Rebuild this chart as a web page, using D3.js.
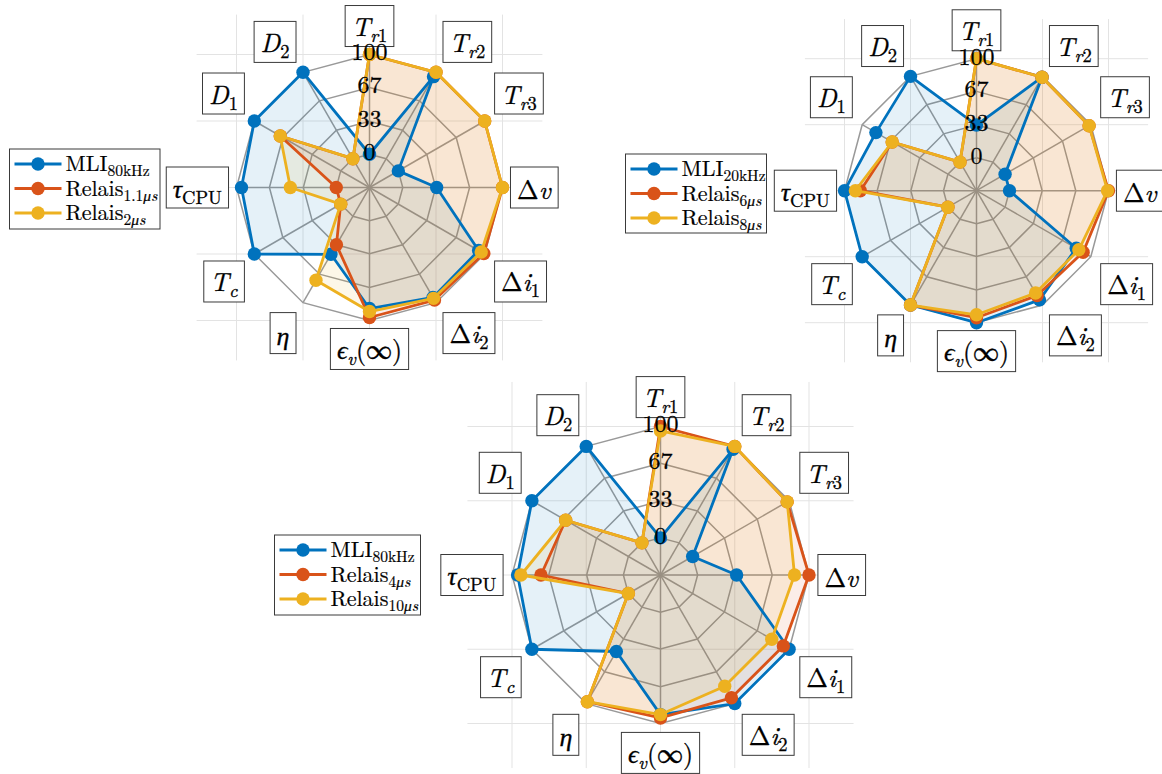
<!DOCTYPE html>
<html><head><meta charset="utf-8">
<script src="https://cdn.jsdelivr.net/npm/d3@7"></script>
<style>html,body{margin:0;padding:0;background:#fff;} svg{display:block;}</style>
</head><body>
<svg id="chart" width="1162" height="774"></svg>
<script>
// ---------------- DATA ----------------
const categories = ["T_{r1}","T_{r2}","T_{r3}","\\Delta v","\\Delta i_1","\\Delta i_2","\\epsilon_v(\\infty)","\\eta","T_c","\\tau_{\\mathrm{CPU}}","D_1","D_2"];
const tickLabels = ["0","33","67","100"];
const tickValues = [0, 33, 67, 100];

const chart1Names = ["\\mathrm{MLI}_{\\mathrm{80kHz}}","\\mathrm{Relais}_{1.1\\mu s}","\\mathrm{Relais}_{2\\mu s}"];
const chart1MLI    = [0, 95, 0, 34, 93, 94, 88, 44, 100, 95, 100, 100];
const chart1RelaisA = [100, 100, 100, 100, 99, 97, 97, 33, 0, 0, 70, 0];
const chart1RelaisB = [100, 100, 100, 100, 96, 95, 91, 74, 0, 46, 70, 0];

const chart2Names = ["\\mathrm{MLI}_{\\mathrm{20kHz}}","\\mathrm{Relais}_{6\\mu s}","\\mathrm{Relais}_{8\\mu s}"];
const chart2MLI    = [33, 99, 0, 0, 83, 94, 100, 100, 100, 100, 84, 100];
const chart2RelaisA = [100, 99, 98, 100, 91, 89, 95, 100, 0, 84, 65, 0];
const chart2RelaisB = [100, 99, 98, 99, 86, 86, 92, 100, 0, 89, 65, 0];

const chart3Names = ["\\mathrm{MLI}_{\\mathrm{80kHz}}","\\mathrm{Relais}_{4\\mu s}","\\mathrm{Relais}_{10\\mu s}"];
const chart3MLI    = [0, 97, 0, 35, 100, 100, 92, 46, 100, 95, 100, 100];
const chart3RelaisA = [100, 100, 98, 100, 94, 94, 95, 98, 0, 74, 65, 0];
const chart3RelaisB = [96, 100, 98, 87, 82, 82, 92, 98, 0, 92, 65, 0];

const seriesColors = ["#0072BD", "#D95319", "#EDB120"];

// ---------------- LAYOUT ----------------
const charts = [
  {cx: 369.5, cy: 187.5, R: 133, names: chart1Names, data: [chart1MLI, chart1RelaisA, chart1RelaisB],
   legend: {x: 9.5, y: 149, w: 150.5, h: 80}},
  {cx: 976.5, cy: 190.7, R: 132, names: chart2Names, data: [chart2MLI, chart2RelaisA, chart2RelaisB],
   legend: {x: 625.5, y: 154, w: 141, h: 79}},
  {cx: 660.5, cy: 575, R: 148.5, names: chart3Names, data: [chart3MLI, chart3RelaisA, chart3RelaisB],
   legend: {x: 274.5, y: 535, w: 146, h: 80}}
];

const FONT = '"Latin Modern Roman", "Liberation Serif", "DejaVu Serif"';
const svg = d3.select("#chart");

// ---- tiny TeX-ish parser ----
function matchBrace(str, k){ let d=0; for(let j=k;j<str.length;j++){ if(str[j]==='{')d++; else if(str[j]==='}'){d--; if(d===0) return j;} } return str.length-1; }
function parseTex(s){
  const segs=[];
  const cmds={Delta:['Δ',false],epsilon:['ϵ',true],infty:['∞',false],eta:['η',true],tau:['τ',true],mu:['μ',true]};
  function push(t,it,sub){ const last=segs[segs.length-1]; if(last&&last.it===it&&last.sub===sub) last.t+=t; else segs.push({t,it,sub}); }
  function parseGroup(str, sub, roman){
    let j=0;
    while(j<str.length){
      const c=str[j];
      if(c==='\\'){
        let k=j+1; while(k<str.length && /[a-zA-Z]/.test(str[k])) k++;
        const name=str.slice(j+1,k);
        if(name==='mathrm'){ const end=matchBrace(str,k); parseGroup(str.slice(k+1,end), sub, true); j=end+1; }
        else { const m=cmds[name]; push(m[0], roman?false:m[1], sub); j=k; if(str[j]===' ') j++; }
      } else if(c==='_'){
        const k=j+1; let g;
        if(str[k]==='{'){ const end=matchBrace(str,k); g=str.slice(k+1,end); j=end+1; }
        else { g=str[k]; j=k+1; }
        parseGroup(g, true, roman);
      } else if(c===' '){ j++; }
      else { push(c, !roman && /[a-zA-Z]/.test(c), sub); j++; }
    }
  }
  parseGroup(s,false,false);
  return segs;
}
function texText(g, str, size, subSize, subShift){
  const text=g.append('text').style('font-family',FONT).style('font-size',size+'px')
    .attr('fill','#000').attr('stroke','#000').attr('stroke-width',0.3);
  let inSub=false;
  parseTex(str).forEach(s=>{
    const ts=text.append('tspan').text(s.t).style('font-style',s.it?'italic':'normal');
    if(s.sub){ ts.style('font-size',subSize+'px'); if(!inSub) ts.attr('dy',subShift); inSub=true; }
    else { if(inSub) ts.attr('dy',-subShift); inSub=false; }
  });
  return text;
}

const N = categories.length;
const angleOf = i => i * 2 * Math.PI / N; // clockwise from top

charts.forEach(ch => {
  const g = svg.append('g');
  const {cx, cy, R} = ch;
  const rScale = d3.scaleLinear().domain([0, 100]).range([0.25 * R, R]);
  const xS = d3.scaleLinear().domain([-1.3, 1.3]).range([cx - 1.3 * R, cx + 1.3 * R]);
  const yS = d3.scaleLinear().domain([-1.3, 1.3]).range([cy + 1.3 * R, cy - 1.3 * R]);
  const gridTicks = [-1, -0.5, 0, 0.5, 1];

  // background axes grid
  const grid = g.append('g').attr('stroke', '#e3e3e3').attr('stroke-width', 1);
  gridTicks.forEach(t => {
    grid.append('line').attr('x1', xS(t)).attr('x2', xS(t)).attr('y1', yS(1.3)).attr('y2', yS(-1.3));
    grid.append('line').attr('y1', yS(t)).attr('y2', yS(t)).attr('x1', xS(-1.3)).attr('x2', xS(1.3));
  });

  const pt = (i, r) => [cx + r * Math.sin(angleOf(i)), cy - r * Math.cos(angleOf(i))];

  // web rings + spokes
  const web = g.append('g').attr('fill', 'none').attr('stroke', '#999').attr('stroke-width', 1.5);
  tickValues.forEach(v => {
    const pts = d3.range(N).map(i => pt(i, rScale(v)));
    web.append('path').attr('d', d3.line().curve(d3.curveLinearClosed)(pts));
  });
  d3.range(N).forEach(i => {
    const p = pt(i, R);
    web.append('line').attr('x1', cx).attr('y1', cy).attr('x2', p[0]).attr('y2', p[1]);
  });

  const radial = d3.lineRadial()
    .angle((d, i) => angleOf(i))
    .radius(d => rScale(d))
    .curve(d3.curveLinearClosed);

  const plot = g.append('g').attr('transform', `translate(${cx},${cy})`);
  ch.data.forEach((vals, s) => {
    plot.append('path').attr('d', radial(vals)).attr('fill', seriesColors[s]).attr('fill-opacity', 0.1).attr('stroke', 'none');
  });
  ch.data.forEach((vals, s) => {
    plot.append('path').attr('d', radial(vals)).attr('fill', 'none')
      .attr('stroke', seriesColors[s]).attr('stroke-width', 2.8).attr('stroke-linejoin', 'round');
    plot.selectAll(null).data(vals).enter().append('circle')
      .attr('cx', (d, i) => rScale(d) * Math.sin(angleOf(i)))
      .attr('cy', (d, i) => -rScale(d) * Math.cos(angleOf(i)))
      .attr('r', 6.7).attr('fill', seriesColors[s]);
  });

  // axis label boxes
  const labG = g.append('g');
  categories.forEach((lab, i) => {
    const a = angleOf(i);
    const s = Math.sin(a), c = Math.cos(a);
    const rl = 1.06 * R;
    const ax = cx + rl * s, ay = cy - rl * c;
    const cell = labG.append('g');
    const rect = cell.append('rect');
    const t = texText(cell, lab, 26, 18.5, 6);
    const bb = t.node().getBBox();
    const w = bb.width + 13, h = 41;
    const off = (Math.abs(s) > 0.01 && Math.abs(c) > 0.01) ? 3 : 0;
    let bx, by;
    if (Math.abs(s) < 0.01) bx = ax - w / 2; else if (s > 0) bx = ax + off; else bx = ax - off - w;
    if (Math.abs(c) < 0.01) by = ay - h / 2; else if (c > 0) by = ay - off - h; else by = ay + off;
    rect.attr('x', bx).attr('y', by).attr('width', w).attr('height', h)
      .attr('fill', '#fff').attr('stroke', '#3a3a3a').attr('stroke-width', 1);
    t.attr('transform', `translate(${bx + w / 2 - (bb.x + bb.width / 2)},${by + h / 2 - (bb.y + bb.height / 2) + 1})`);
  });

  // tick labels along the first axis
  const tg = g.append('g').style('font-family', FONT).style('font-size', '24px').attr('text-anchor', 'middle')
    .attr('fill', '#000').attr('stroke', '#000').attr('stroke-width', 0.3);
  tickValues.forEach((v, k) => {
    tg.append('text').attr('x', cx).attr('y', cy - rScale(v) - 2).attr('dy', '0.33em').text(tickLabels[k]);
  });

  // legend
  const L = ch.legend;
  const lg = g.append('g');
  lg.append('rect').attr('x', L.x).attr('y', L.y).attr('width', L.w).attr('height', L.h)
    .attr('fill', '#fff').attr('stroke', '#3a3a3a').attr('stroke-width', 1);
  const rowOff = [15, 39.5, 64];
  ch.names.forEach((nm, s) => {
    const ry = L.y + rowOff[s];
    lg.append('line').attr('x1', L.x + 5).attr('x2', L.x + 52).attr('y1', ry).attr('y2', ry)
      .attr('stroke', seriesColors[s]).attr('stroke-width', 2.8);
    lg.append('circle').attr('cx', L.x + 28.5).attr('cy', ry).attr('r', 6.7).attr('fill', seriesColors[s]);
    const t = texText(lg, nm, 22, 15.5, 5);
    t.attr('stroke-width', 0.2).attr('x', L.x + 56).attr('y', ry + 7);
  });
});
</script>
</body></html>
